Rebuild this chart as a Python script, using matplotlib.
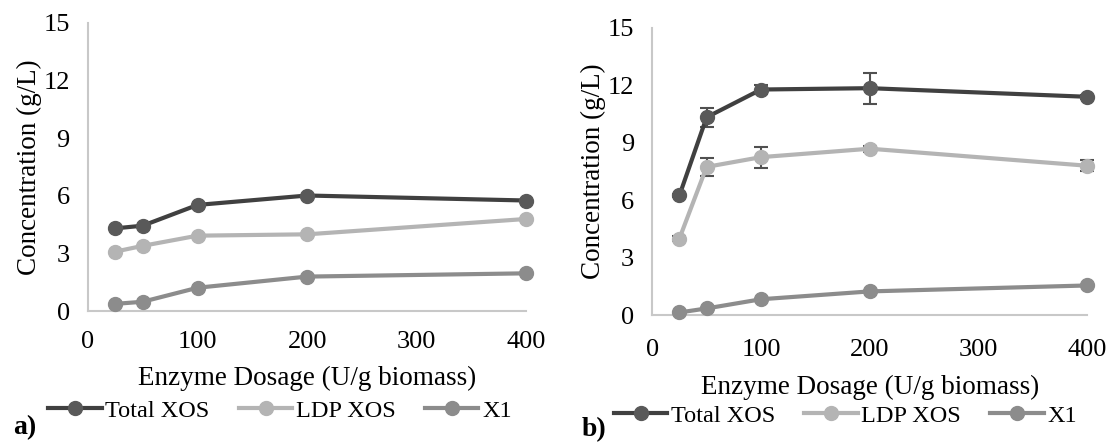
import matplotlib
matplotlib.use("Agg")
import matplotlib.pyplot as plt

# enzyme dosage (U/g biomass)
dosage = [25, 50, 100, 200, 400]

# panel a) concentrations (g/L)
a_total = [4.31, 4.45, 5.53, 6.02, 5.76]
a_ldp = [3.10, 3.40, 3.93, 4.00, 4.80]
a_x1 = [0.38, 0.49, 1.22, 1.80, 1.97]

# panel b) concentrations (g/L) with standard deviations
b_total = [6.25, 10.33, 11.78, 11.85, 11.40]
b_total_err = [0.10, 0.50, 0.25, 0.80, 0.10]
b_ldp = [4.00, 7.74, 8.25, 8.69, 7.80]
b_ldp_err = [0.15, 0.45, 0.55, 0.15, 0.30]
b_x1 = [0.14, 0.35, 0.83, 1.24, 1.55]

series_names = ["Total XOS", "LDP XOS", "X1"]
line_cols = ["#404040", "#b4b4b4", "#8c8c8c"]
mark_cols = ["#595959", "#b4b4b4", "#8c8c8c"]

plt.rcParams["font.family"] = ["Liberation Serif", "DejaVu Serif"]
plt.rcParams["font.size"] = 19

fig = plt.figure(figsize=(11.13, 4.42), dpi=100)
ax_a = fig.add_axes([0.079, 0.296, 0.394, 0.652])
ax_b = fig.add_axes([0.586, 0.287, 0.391, 0.650])


def draw_panel(ax, series, errs, xpad, xlab_y):
    for name, ys, err, lc, mc in zip(series_names, series, errs, line_cols, mark_cols):
        if err is not None:
            ax.errorbar(dosage, ys, yerr=err, fmt="none", ecolor="#505050",
                        elinewidth=1.5, capsize=5, capthick=1.5, zorder=2)
        ax.plot(dosage, ys, color=lc, lw=3, marker="o", ms=10,
                mfc=mc, mec=mc, label=name, zorder=3)
    ax.set_xlim(0, 400)
    ax.set_ylim(0, 15)
    ax.set_xticks([0, 100, 200, 300, 400])
    ax.set_yticks([0, 3, 6, 9, 12, 15])
    for s in ("top", "right"):
        ax.spines[s].set_visible(False)
    for s in ("left", "bottom"):
        ax.spines[s].set_color("#c8c8c8")
        ax.spines[s].set_linewidth(1.5)
    ax.tick_params(length=0, labelsize=19)
    ax.tick_params(axis="x", pad=xpad)
    ax.tick_params(axis="y", pad=13)
    ax.set_ylabel("Concentration (g/L)", fontsize=19.5, labelpad=1)
    ax.set_xlabel("Enzyme Dosage (U/g biomass)", fontsize=19.5, va="center")
    ax.xaxis.set_label_coords(0.5, xlab_y)
    for ln in ax.lines:
        ln.set_clip_on(False)


draw_panel(ax_a, [a_total, a_ldp, a_x1], [None, None, None], 14, -0.235)
draw_panel(ax_b, [b_total, b_ldp, b_x1], [b_total_err, b_ldp_err, None], 17, -0.25)

leg_kw = dict(loc="center", ncol=3, frameon=False, handlelength=2.2,
              handletextpad=0.15, columnspacing=1.2, fontsize=17.5,
              borderaxespad=0)
ax_a.legend(bbox_to_anchor=(0.438, -0.345), **leg_kw)
ax_b.legend(bbox_to_anchor=(0.444, -0.35), **leg_kw)

fig.text(0.012, 0.005, "a)", fontsize=20, fontweight="bold", va="bottom")
fig.text(0.523, 0.0, "b)", fontsize=20, fontweight="bold", va="bottom")

fig.savefig("out.png", dpi=100)
